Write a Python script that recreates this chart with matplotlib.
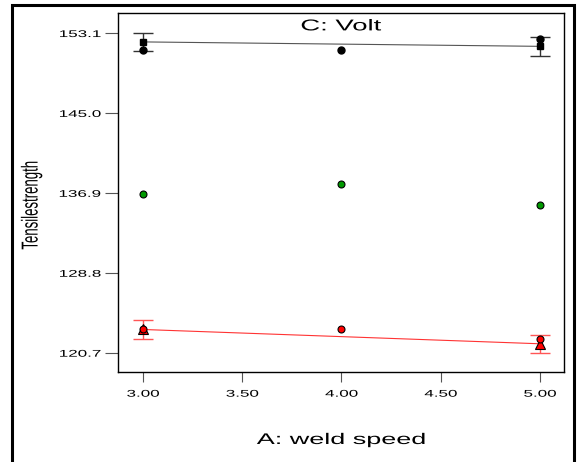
import matplotlib
matplotlib.use("Agg")
import matplotlib.pyplot as plt
from matplotlib.patches import Rectangle
from matplotlib.patheffects import AbstractPathEffect
from matplotlib.transforms import Affine2D

plt.rcParams['font.family'] = ['Liberation Sans', 'DejaVu Sans']

speed = [3.0, 4.0, 5.0]
end_speed = [3.0, 5.0]

# high volt level
high_pts = [151.4, 151.4, 152.5]
high_fit = [152.2, 151.75]
high_err = [0.93, 0.96]

# centre points
mid_pts = [136.8, 137.8, 135.7]

# low volt level
low_pts = [123.1, 123.1, 122.1]
low_fit = [123.05, 121.6]
low_err = [0.93, 0.93]

yticks = [120.7, 128.8, 136.9, 145.0, 153.1]
xticks = [3.0, 3.5, 4.0, 4.5, 5.0]

WIDE = 1.75


class Widen(AbstractPathEffect):
    """Stretch glyphs horizontally on screen, keeping one anchor fixed."""

    def __init__(self, sx=WIDE, anchor='center'):
        super().__init__()
        self.sx = sx
        self.anchor = anchor

    def draw_path(self, renderer, gc, tpath, affine, rgbFace=None):
        bb = tpath.get_extents(affine)
        x0 = bb.x1 if self.anchor == 'right' else (bb.x0 + bb.x1) / 2
        t = affine + Affine2D().translate(-x0, 0).scale(self.sx, 1).translate(x0, 0)
        renderer.draw_path(gc, tpath, t, rgbFace)


fig = plt.figure(figsize=(5.77, 4.62), dpi=100)
ax = fig.add_axes([118/577, 1 - 372/462, 446/577, 359/462])

# outer frame
fig.patches.append(Rectangle((12/577, -0.05), 562/577, 1.05 - 5/462,
                             transform=fig.transFigure, fill=False,
                             edgecolor='black', linewidth=2.2))

ax.plot(end_speed, high_fit, color='#555555', linewidth=0.8, zorder=2)
ax.errorbar(end_speed, high_fit, yerr=high_err, fmt='none', ecolor='#333333',
            elinewidth=1.0, capsize=7, capthick=1.0, zorder=2)
ax.plot(end_speed, high_fit, 's', color='black', markersize=5, zorder=3)
ax.plot(speed, high_pts, 'o', color='black', markersize=5, zorder=3)

ax.plot(speed, mid_pts, 'o', markerfacecolor='#009900', markeredgecolor='black',
        markersize=5, markeredgewidth=0.8, zorder=3)

ax.plot(end_speed, low_fit, color='#ff3333', linewidth=0.8, zorder=2)
ax.errorbar(end_speed, low_fit, yerr=low_err, fmt='none', ecolor='#ff5555',
            elinewidth=1.0, capsize=7, capthick=1.0, zorder=2)
ax.plot(end_speed, low_fit, '^', markerfacecolor='red', markeredgecolor='black',
        markersize=6.5, markeredgewidth=0.8, zorder=3)
ax.plot(speed, low_pts, 'o', markerfacecolor='red', markeredgecolor='black',
        markersize=5, markeredgewidth=0.8, zorder=4)

ax.set_xlim(2.874, 5.121)
ax.set_ylim(118.74, 155.13)
ax.set_xticks(xticks)
ax.set_xticklabels(['%.2f' % v for v in xticks], fontsize=7)
ax.set_yticks(yticks)
ax.set_yticklabels(['%.1f' % v for v in yticks], fontsize=7)
ax.tick_params(axis='y', length=9.4, width=0.8, color='#555555', pad=3)
ax.tick_params(axis='x', length=7.5, width=0.8, color='#555555', pad=4.5)
for lab in ax.get_yticklabels():
    lab.set_path_effects([Widen(anchor='right')])
for lab in ax.get_xticklabels():
    lab.set_path_effects([Widen()])
for s in ax.spines.values():
    s.set_linewidth(1.0)

ax.text(0.5, 0.985, 'C: Volt', transform=ax.transAxes, ha='center', va='top',
        fontsize=11.3, path_effects=[Widen()])
fig.text(341/577, 1 - 440/462, 'A: weld speed', ha='center', va='center',
         fontsize=11.1, path_effects=[Widen()])
fig.text(32/577, 1 - 205/462, 'Tensilestrength', ha='center', va='center',
         rotation=90, fontsize=9.5, path_effects=[Widen()])

fig.savefig('out.png', dpi=100)
